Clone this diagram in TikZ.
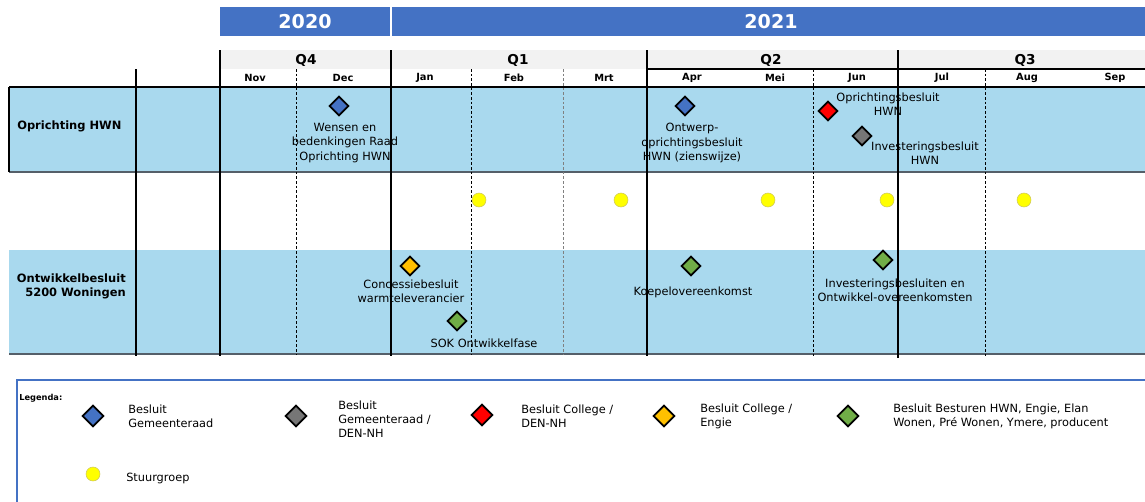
\documentclass[tikz,border=0pt]{standalone}
\usepackage{fontspec}
\setmainfont{DejaVu Sans}
\usetikzlibrary{shapes.geometric}
\definecolor{yrblue}{RGB}{68,114,196}
\definecolor{rowblue}{RGB}{169,217,238}
\definecolor{qgray}{RGB}{242,242,242}
\definecolor{dgray}{RGB}{118,118,118}
\definecolor{dred}{RGB}{255,0,0}
\definecolor{dorange}{RGB}{255,192,0}
\definecolor{dgreen}{RGB}{112,173,71}
\definecolor{syellow}{RGB}{255,255,0}
\definecolor{lineg}{RGB}{85,95,105}
\begin{document}
\begin{tikzpicture}[x=0.75pt,y=-0.75pt,
  yeartxt/.style={text=white,font=\fontsize{14.3}{16}\selectfont\bfseries,inner sep=0pt},
  qtxt/.style={font=\fontsize{10.2}{12}\selectfont\bfseries,inner sep=0pt},
  mtxt/.style={font=\fontsize{7.4}{9}\selectfont\bfseries,inner sep=0pt},
  rowtxt/.style={font=\fontsize{8.6}{10.6}\selectfont\bfseries,inner sep=0pt},
  evt/.style={font=\fontsize{8.5}{10.6}\selectfont,align=center,inner sep=0pt},
  legtxt/.style={font=\fontsize{8.5}{10.6}\selectfont,align=left,anchor=west,inner sep=0pt},
  dia/.style={diamond,draw=black,line width=1.3pt,minimum width=14.5pt,minimum height=14.5pt,inner sep=0pt},
  ldia/.style={dia,minimum width=16pt,minimum height=16pt},
  circ/.style={circle,fill=syellow,draw=yellow!55!gray,line width=0.4pt,minimum size=10.5pt,inner sep=0pt},
  solidv/.style={line width=1.4pt,black},
  dashv/.style={line width=0.6pt,black,dash pattern=on 2pt off 1.5pt},
  thinh/.style={line width=0.8pt,lineg}
]
\useasboundingbox (0,0) rectangle (1145,501);
% year bars
\fill[yrblue] (220,7) rectangle (389.5,36);
\fill[yrblue] (392,7) rectangle (1145,36);
\node[yeartxt] (y2020) at (305,21.5) {2020};
\node[yeartxt] (y2021) at (771,21.5) {2021};
% quarter row
\fill[qgray] (220,50) rectangle (1145,69);
\node[qtxt] (q4) at (306,60) {Q4};
\node[qtxt] (q1) at (518,60) {Q1};
\node[qtxt] (q2) at (771,60) {Q2};
\node[qtxt] (q3) at (1025,60) {Q3};
\draw[line width=0.8pt] (647,69) -- (1145,69);
% months
\node[mtxt] (mnov) at (255,78) {Nov};
\node[mtxt] (mdec) at (343,78) {Dec};
\node[mtxt] (mjan) at (425,78) {Jan};
\node[mtxt] (mfeb) at (514,78) {Feb};
\node[mtxt] (mmrt) at (604,78) {Mrt};
\node[mtxt] (mapr) at (692,78) {Apr};
\node[mtxt] (mmei) at (775,78) {Mei};
\node[mtxt] (mjun) at (857,78) {Jun};
\node[mtxt] (mjul) at (942,78) {Jul};
\node[mtxt] (maug) at (1027,78) {Aug};
\node[mtxt] (msep) at (1115,78) {Sep};
% rows
\fill[rowblue] (9,87) rectangle (1145,172);
\fill[rowblue] (9,250) rectangle (1145,354);
\draw[thinh] (9,172) -- (1145,172);
\draw[thinh] (9,354) -- (1145,354);
\draw[line width=0.8pt,black] (9,87) -- (9,172);
% dashed month separators
\draw[dashv] (296,69) -- (296,354);
\draw[dashv] (471,69) -- (471,354);
\draw[dashv,gray] (563,69) -- (563,354);
\draw[dashv] (813,69) -- (813,356);
\draw[dashv] (985,69) -- (985,356);
% solid separators
\draw[solidv] (136,69) -- (136,356);
\draw[solidv] (220,50) -- (220,356);
\draw[solidv] (391,50) -- (391,356);
\draw[solidv] (647,50) -- (647,356);
\draw[solidv] (898,50) -- (898,358);
\draw[line width=1.5pt] (9,87) -- (1145,87);
% row labels
\node[rowtxt,anchor=west] (r1) at (17,126) {Oprichting HWN};
\node[rowtxt,anchor=east,align=right] (r3) at (126,286) {Ontwikkelbesluit\\5200 Woningen};
% row 1 events
\node[dia,fill=yrblue] (d1) at (339,106) {};
\node[evt] (t1) at (345,143) {Wensen en\\bedenkingen Raad\\Oprichting HWN};
\node[dia,fill=yrblue] (d2) at (685,106) {};
\node[evt] (t2) at (692,143) {Ontwerp-\\oprichtingsbesluit\\HWN (zienswijze)};
\node[dia,fill=dred] (d3) at (828,111) {};
\node[evt] (t3) at (888,104) {Oprichtingsbesluit\\HWN};
\node[dia,fill=dgray] (d4) at (862,136) {};
\node[evt] (t4) at (925,153.5) {Investeringsbesluit\\HWN};
% row 2 stuurgroep
\node[circ] (s1) at (479,200) {};
\node[circ] (s2) at (621,200) {};
\node[circ] (s3) at (768,200) {};
\node[circ] (s4) at (887,200) {};
\node[circ] (s5) at (1024,200) {};
% row 3 events
\node[dia,fill=dorange] (d5) at (410,266) {};
\node[evt] (t5) at (411,291) {Concessiebesluit\\warmteleverancier};
\node[dia,fill=dgreen] (d6) at (457,321) {};
\node[evt] (t6) at (484,343) {SOK Ontwikkelfase};
\node[dia,fill=dgreen] (d7) at (691,266) {};
\node[evt] (t7) at (693,292) {Koepelovereenkomst};
\node[dia,fill=dgreen] (d8) at (883,260) {};
\node[evt] (t8) at (895,290) {Investeringsbesluiten en\\Ontwikkel-overeenkomsten};
% legend
\draw[yrblue,line width=1.5pt] (17,502) -- (17,380) -- (1146,380);
\node[font=\fontsize{6.2}{7}\selectfont\bfseries,anchor=west,inner sep=0pt] (leg) at (19,398) {Legenda:};
\node[ldia,fill=yrblue] (l1) at (93,416) {};
\node[legtxt] (lt1) at (128,416) {Besluit\\Gemeenteraad};
\node[ldia,fill=dgray] (l2) at (296,416) {};
\node[legtxt] (lt2) at (338,419) {Besluit\\Gemeenteraad /\\DEN-NH};
\node[ldia,fill=dred] (l3) at (482,415) {};
\node[legtxt] (lt3) at (521,416.5) {Besluit College /\\DEN-NH};
\node[ldia,fill=dorange] (l4) at (664,416) {};
\node[legtxt] (lt4) at (700,416.5) {Besluit College /\\Engie};
\node[ldia,fill=dgreen] (l5) at (848,416) {};
\node[legtxt] (lt5) at (893,416.5) {Besluit Besturen HWN, Engie, Elan\\Wonen, Pré Wonen, Ymere, producent};
\node[circ] (l6) at (93,474) {};
\node[legtxt] (lt6) at (126,478) {Stuurgroep};
\end{tikzpicture}
\end{document}
